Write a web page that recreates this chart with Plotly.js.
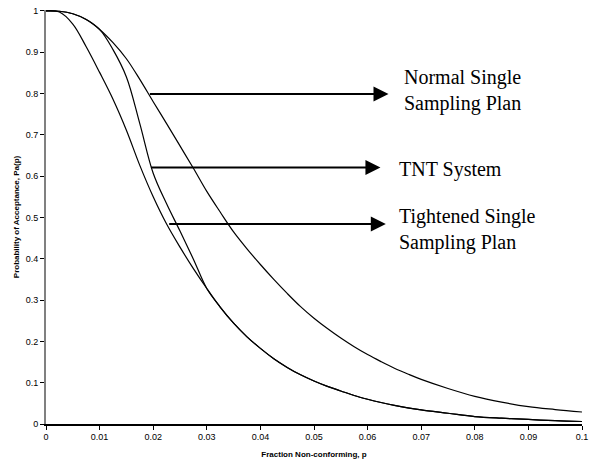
<!DOCTYPE html>
<html>
<head>
<meta charset="utf-8">
<script src="https://cdn.plot.ly/plotly-3.0.1.min.js"></script>
<style>html,body{margin:0;padding:0;background:#fff;}#chart{width:591px;height:466px;}</style>
</head>
<body>
<div id="chart"></div>
<script>
// Fraction non-conforming values at which the curves were read off the picture
const pGrid = [0, 0.0025, 0.005, 0.0075, 0.01, 0.0125, 0.015, 0.0175, 0.02, 0.0225, 0.025, 0.0275, 0.03,
               0.0325, 0.035, 0.0375, 0.04, 0.0425, 0.045, 0.0475, 0.05, 0.0525, 0.055, 0.0575, 0.06,
               0.0625, 0.065, 0.0675, 0.07, 0.075, 0.08, 0.085, 0.09, 0.095, 0.1];

// Normal single sampling plan
const normalPa = [1, 0.999, 0.993, 0.979, 0.955, 0.923, 0.884, 0.834, 0.78, 0.727, 0.673, 0.619, 0.563,
                  0.513, 0.465, 0.424, 0.386, 0.350, 0.316, 0.284, 0.256, 0.231, 0.208, 0.187, 0.168,
                  0.151, 0.135, 0.121, 0.108, 0.086, 0.067, 0.053, 0.042, 0.035, 0.029];

// TNT system
const tntPa = [1, 0.999, 0.993, 0.979, 0.955, 0.906, 0.84, 0.727, 0.607, 0.533, 0.467, 0.399, 0.328,
               0.283, 0.244, 0.211, 0.183, 0.158, 0.137, 0.119, 0.104, 0.091, 0.080, 0.069, 0.060,
               0.052, 0.045, 0.039, 0.034, 0.026, 0.018, 0.014, 0.011, 0.008, 0.006];

// Tightened single sampling plan
const tightPa = [1, 0.997, 0.968, 0.913, 0.851, 0.786, 0.711, 0.626, 0.550, 0.484, 0.428, 0.376, 0.328,
                 0.283, 0.244, 0.211, 0.183, 0.158, 0.137, 0.119, 0.104, 0.091, 0.080, 0.069, 0.060,
                 0.052, 0.045, 0.039, 0.034, 0.026, 0.018, 0.014, 0.011, 0.008, 0.006];

const labels = ['Normal Single<br>Sampling Plan', 'TNT System', 'Tightened Single<br>Sampling Plan'];
const xTitle = 'Fraction Non-conforming, p';
const yTitle = 'Probability of Acceptance, Pa(p)';

const lineStyle = {color: '#000', width: 1.2, shape: 'spline', smoothing: 1};
const traces = [
  {x: pGrid, y: normalPa, mode: 'lines', line: lineStyle, hoverinfo: 'skip'},
  {x: pGrid, y: tntPa, mode: 'lines', line: lineStyle, hoverinfo: 'skip'},
  {x: pGrid, y: tightPa, mode: 'lines', line: lineStyle, hoverinfo: 'skip'}
];

function arrow(x0, y0, x1) {
  return {x: x1, y: y0, xref: 'x', yref: 'y', ax: x0, ay: y0, axref: 'x', ayref: 'y',
    text: '', showarrow: true, arrowhead: 2, arrowsize: 1.5, arrowwidth: 2, arrowcolor: '#000'};
}
function label(x, y, t) {
  return {x: x, y: y, xref: 'x', yref: 'y', text: t, showarrow: false, xanchor: 'left', yanchor: 'middle', align: 'left',
    font: {family: 'Liberation Serif, Times New Roman, serif', size: 20, color: '#000'}};
}

const layout = {
  width: 591, height: 466,
  margin: {l: 46, r: 9, t: 10, b: 42},
  paper_bgcolor: '#fff', plot_bgcolor: '#fff',
  showlegend: false,
  font: {family: 'Liberation Sans, Arial, sans-serif', size: 9, color: '#000'},
  xaxis: {
    range: [0, 0.1], dtick: 0.01, tick0: 0, showgrid: false, zeroline: false,
    showline: true, linecolor: '#000', linewidth: 1.5,
    ticks: 'outside', ticklen: 4, tickwidth: 1, tickcolor: '#000',
    tickfont: {size: 9, color: '#000'},
    title: {text: xTitle, font: {size: 8, color: '#000', weight: 'bold'}, standoff: 10}
  },
  yaxis: {
    range: [0, 1.002], dtick: 0.1, tick0: 0, showgrid: false, zeroline: false,
    showline: true, linecolor: '#808080', linewidth: 2,
    ticks: 'outside', ticklen: 4, tickwidth: 1, tickcolor: '#000',
    tickfont: {size: 9, color: '#000'},
    title: {text: yTitle, font: {size: 8, color: '#000', weight: 'bold'}, standoff: 5}
  },
  annotations: [
    arrow(0.0191, 0.7985, 0.0639),
    arrow(0.0193, 0.621, 0.0624),
    arrow(0.0227, 0.484, 0.0634),
    label(0.0665, 0.8065, labels[0]),
    label(0.0654, 0.617, labels[1]),
    label(0.0654, 0.470, labels[2])
  ]
};

Plotly.newPlot('chart', traces, layout, {displayModeBar: false, staticPlot: true});
</script>
</body>
</html>
